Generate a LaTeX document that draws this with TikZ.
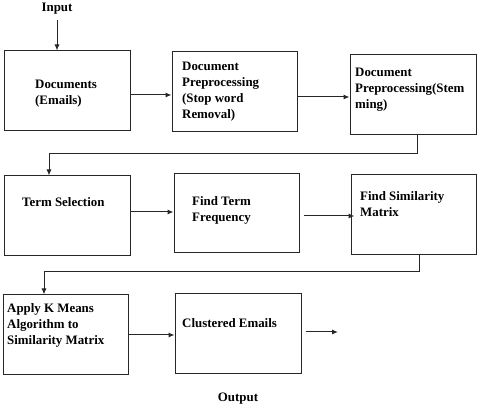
\documentclass[tikz,border=0pt]{standalone}
\usepackage{fontspec}
\setmainfont{Liberation Serif}
\usetikzlibrary{arrows.meta}

\begin{document}
\begin{tikzpicture}[x=1pt,y=-1pt,
  box/.style={draw=black!85,line width=1pt,minimum width=126pt,minimum height=80pt,inner sep=0pt},
  txt/.style={anchor=north west,inner sep=0pt,align=left,font=\fontsize{12.9}{16}\selectfont\bfseries},
  arr/.style={draw=black!85,line width=1pt,-{Latex[length=6pt,width=5pt]}}]
\useasboundingbox (0,0) rectangle (483,411);
% boxes
\node[box] (docs) at (67,91) {};
\node[box,minimum width=125pt] (stop) at (234.5,92) {};
\node[box] (stem) at (413,95) {};
\node[box] (term) at (67,216) {};
\node[box,minimum width=125pt,minimum height=79pt] (freq) at (236.5,213.5) {};
\node[box,minimum width=125pt] (simm) at (413.5,215) {};
\node[box,minimum width=125pt] (kmns) at (65.5,335) {};
\node[box] (clus) at (238,334) {};
% texts
\node[txt] (tdocs) at (35,80) {Documents\\(Emails)};
\node[txt] (tstop) at (182,62) {Document\\Preprocessing\\(Stop word\\Removal)};
\node[txt] (tstem) at (355,68) {Document\\Preprocessing(Stem\\ming)};
\node[txt] (tterm) at (22,197) {Term Selection};
\node[txt] (tfreq) at (192,196) {Find Term\\Frequency};
\node[txt] (tsimm) at (360,191) {Find Similarity\\Matrix};
\node[txt] (tkmns) at (7,303) {Apply K Means\\Algorithm to\\Similarity Matrix};
\node[txt] (tclus) at (182,318) {Clustered Emails};
\node[txt,anchor=center] (input) at (57,9) {Input};
\node[txt,anchor=center] (output) at (238,399) {Output};
% connectors
\draw[arr] (input.south) ++(0,5) -- ([xshift=-10pt]docs.north);
\draw[arr] ([yshift=-4pt]docs.east) -- ([yshift=-4pt]docs.east -| stop.west);
\draw[arr] ([yshift=-5pt]stop.east) -- ([yshift=-5pt]stop.east -| stem.west);
\draw[arr] ([xshift=4pt]stem.south) -- ++(0,18) -| ([xshift=-18pt]term.north);
\draw[arr] ([yshift=4pt]term.east) -- ([yshift=4pt]term.east -| freq.west);
\draw[arr] ([xshift=4pt,yshift=-2.5pt]freq.east) -- ([xshift=4pt,yshift=-2.5pt]freq.east -| simm.west);
\draw[arr] ([xshift=5.5pt]simm.south) -- ++(0,16) -| ([xshift=-21.5pt]kmns.north);
\draw[arr] (kmns.east) -- (kmns.east -| clus.west);
\coordinate (out) at (338,332);
\draw[arr] ([xshift=4pt]clus.east |- out) -- (out);
\end{tikzpicture}
\end{document}
